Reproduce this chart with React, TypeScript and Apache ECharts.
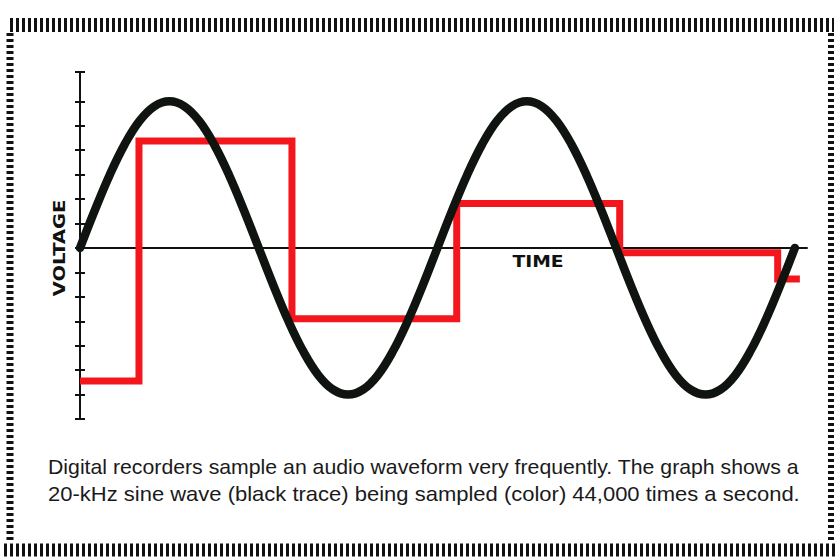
import React, { useEffect, useRef } from 'react';
import * as echarts from 'echarts';

// Black trace: 20-kHz sine (time in µs, voltage in tick units)
const sineTimes = [
  0, 2.08, 4.17, 6.25, 8.33, 10.42, 12.5, 14.58, 16.67, 18.75, 20.83, 22.92, 25,
  27.08, 29.17, 31.25, 33.33, 35.42, 37.5, 39.58, 41.67, 43.75, 45.83, 47.92, 50,
  52.08, 54.17, 56.25, 58.33, 60.42, 62.5, 64.58, 66.67, 68.75, 70.83, 72.92, 75,
  77.08, 79.17, 81.25, 83.33, 85.42, 87.5, 89.58, 91.67, 93.75, 95.83, 97.92, 100,
];
const sineVolts = [
  0, 1.55, 3, 4.24, 5.2, 5.8, 6, 5.8, 5.2, 4.24, 3, 1.55, 0,
  -1.55, -3, -4.24, -5.2, -5.8, -6, -5.8, -5.2, -4.24, -3, -1.55, 0,
  1.55, 3, 4.24, 5.2, 5.8, 6, 5.8, 5.2, 4.24, 3, 1.55, 0,
  -1.55, -3, -4.24, -5.2, -5.8, -6, -5.8, -5.2, -4.24, -3, -1.55, 0,
];

// Red trace: sampled (held) values
const sampleTimes = [0, 8.25, 29.65, 52.7, 75.5, 97.6, 100.7];
const sampleVolts = [-5.44, 4.38, -2.9, 1.82, -0.2, -1.27, -1.27];

const yTickValues = [-7, -6, -5, -4, -3, -2, -1, 0, 1, 2, 3, 4, 5, 6, 7.2];
const xAxisLabel = 'TIME';
const yAxisLabel = 'VOLTAGE';
const captionLines = [
  'Digital recorders sample an audio waveform very frequently. The graph shows a',
  '20-kHz sine wave (black trace) being sampled (color) 44,000 times a second.',
];

export default function App() {
  const ref = useRef<HTMLDivElement>(null);
  useEffect(() => {
    if (!ref.current) return;
    const chart = echarts.init(ref.current, null, { renderer: 'svg' });
    const sineData = sineTimes.map((t, i) => [t, sineVolts[i]]);
    const sampleData = sampleTimes.map((t, i) => [t, sampleVolts[i]]);
    chart.setOption({
      animation: false,
      backgroundColor: '#ffffff',
      grid: { left: 80, right: 29, top: 72, bottom: 139 },
      xAxis: {
        type: 'value',
        min: 0,
        max: 101.7,
        axisLine: { show: true, onZero: true, lineStyle: { color: '#111', width: 2 } },
        axisTick: { show: false },
        axisLabel: { show: false },
        splitLine: { show: false },
      },
      yAxis: [
        {
          type: 'value',
          min: -7,
          max: 7.2,
          axisLine: { show: true, lineStyle: { color: '#111', width: 2 } },
          axisTick: { show: false },
          axisLabel: { show: false },
          splitLine: { show: false },
        },
        {
          type: 'value',
          min: -7,
          max: 7.2,
          position: 'left',
          offset: 5,
          axisLine: { show: false },
          axisTick: {
            show: true,
            inside: true,
            length: 10,
            customValues: yTickValues,
            lineStyle: { color: '#111', width: 2 },
          },
          axisLabel: { show: false },
          splitLine: { show: false },
        },
      ],
      series: [
        {
          type: 'line',
          data: sampleData,
          step: 'end',
          symbol: 'none',
          lineStyle: { color: '#f3161c', width: 7, join: 'miter', cap: 'butt' },
          z: 2,
        },
        {
          type: 'line',
          data: sineData,
          smooth: 0.4,
          symbol: 'none',
          lineStyle: { color: '#101410', width: 8.5, cap: 'round' },
          z: 3,
        },
      ],
      graphic: [
        { type: 'line', shape: { x1: 10, y1: 25, x2: 834, y2: 25 }, style: { stroke: '#111', lineWidth: 14, lineDash: [3, 3] } },
        { type: 'line', shape: { x1: 4, y1: 550, x2: 836, y2: 550 }, style: { stroke: '#111', lineWidth: 13, lineDash: [3, 3] } },
        { type: 'line', shape: { x1: 10, y1: 33, x2: 10, y2: 543 }, style: { stroke: '#111', lineWidth: 7, lineDash: [3, 3] } },
        { type: 'line', shape: { x1: 831, y1: 33, x2: 831, y2: 543 }, style: { stroke: '#111', lineWidth: 6, lineDash: [3, 3] } },
        {
          type: 'text',
          x: 538,
          y: 262,
          scaleX: 1.25,
          style: { text: xAxisLabel, fill: '#111', font: 'bold 15px "DejaVu Sans"', align: 'center', verticalAlign: 'middle' },
        },
        {
          type: 'text',
          x: 60,
          y: 248,
          rotation: Math.PI / 2,
          scaleX: 1.3,
          style: { text: yAxisLabel, fill: '#111', font: 'bold 15px "DejaVu Sans"', align: 'center', verticalAlign: 'middle' },
        },
        {
          type: 'text',
          x: 48,
          y: 467,
          scaleX: 1.064,
          style: { text: captionLines[0], fill: '#1a1a1a', font: '20px "Liberation Sans"', align: 'left', verticalAlign: 'middle' },
        },
        {
          type: 'text',
          x: 48,
          y: 494,
          scaleX: 1.1,
          style: { text: captionLines[1], fill: '#1a1a1a', font: '20px "Liberation Sans"', align: 'left', verticalAlign: 'middle' },
        },
      ],
    });
    return () => chart.dispose();
  }, []);
  return <div ref={ref} style={{ position: 'fixed', left: 0, top: 0, width: 836, height: 558 }} />;
}
